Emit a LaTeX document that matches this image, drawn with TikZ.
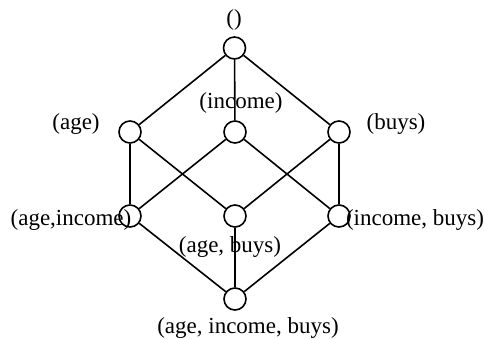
\documentclass[tikz,border=0pt]{standalone}
\usepackage{fontspec}
\setmainfont{Liberation Serif}
\begin{document}
\begin{tikzpicture}[x=1pt,y=-1pt,
  vtx/.style={draw,circle,minimum size=22pt,inner sep=0pt,line width=1.6pt},
  lbl/.style={inner sep=0pt,font=\fontsize{23}{26}\selectfont},
  edge/.style={line width=1.6pt}]
\useasboundingbox (0,0) rectangle (485,338);
\node[vtx] (t) at (234.5,48) {};
\node[vtx] (a) at (130,132) {};
\node[vtx] (i) at (235,132) {};
\node[vtx] (b) at (339,132) {};
\node[vtx] (ai) at (130,216) {};
\node[vtx] (ab) at (235,216) {};
\node[vtx] (ib) at (339,216) {};
\node[vtx] (aib) at (235,299) {};
\draw[edge] (t) -- (a);
\draw[edge] (t) -- (i);
\draw[edge] (t) -- (b);
\draw[edge] (a) -- (ai);
\draw[edge] (a) -- (ab);
\draw[edge] (i) -- (ai);
\draw[edge] (i) -- (ib);
\draw[edge] (b) -- (ab);
\draw[edge] (b) -- (ib);
\draw[edge] (ai) -- (aib);
\draw[edge] (ab) -- (aib);
\draw[edge] (ib) -- (aib);
\node[lbl] (lt) at (234,20) {()};
\node[lbl] (li) at (241,103) {(income)};
\node[lbl] (la) at (76,124) {(age)};
\node[lbl] (lb) at (396,124) {(buys)};
\node[lbl] (lai) at (71,220) {(age,income)};
\node[lbl] (lib) at (415,220) {(income, buys)};
\node[lbl] (lab) at (230,247) {(age, buys)};
\node[lbl] (laib) at (248,328) {(age, income, buys)};
\end{tikzpicture}
\end{document}
